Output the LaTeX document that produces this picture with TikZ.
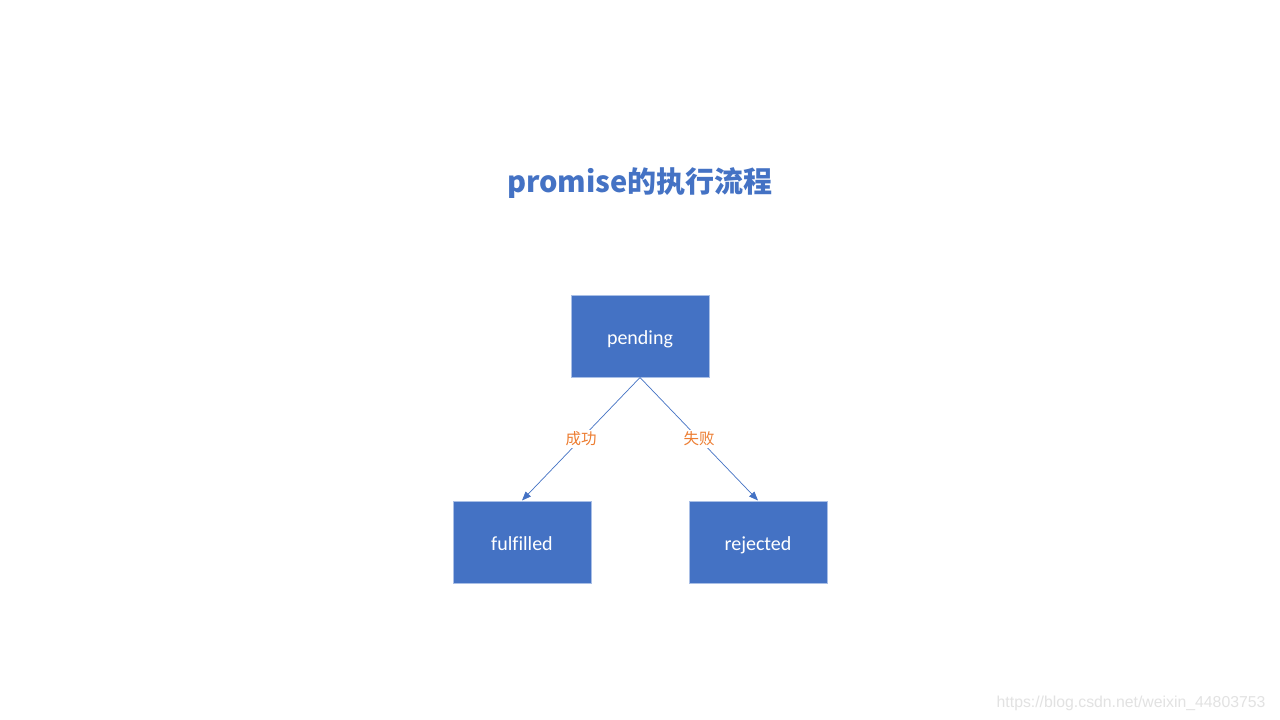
\documentclass[tikz,border=0pt]{standalone}
\usepackage{fontspec}
\setmainfont{Carlito}[Ligatures={NoCommon}]
\newfontfamily\cjk{Noto Sans CJK SC}
\newfontfamily\cjkbold{Noto Sans CJK SC}[UprightFont=* Black]
\newfontfamily\wmfont{Liberation Sans}
\usetikzlibrary{arrows.meta}
\definecolor{boxblue}{HTML}{4472C4}
\definecolor{boxedge}{HTML}{A9BFE6}
\definecolor{lblorange}{HTML}{ED7D31}
\definecolor{wmgray}{HTML}{E2E2E2}
\begin{document}
\begin{tikzpicture}[x=1pt,y=-1pt,
  statebox/.style={draw=boxedge,line width=1pt,fill=boxblue,minimum width=138pt,minimum height=82pt,inner sep=0pt,text=white,text height=20pt,text depth=4pt,font=\fontsize{20}{22}\selectfont},
  conn/.style={draw=boxblue,line width=0.7pt,-{Triangle[length=9pt,width=7pt]}},
  lbl/.style={fill=white,inner sep=1.5pt,text=lblorange,font=\cjk\fontsize{15.5}{17}\selectfont}]
\useasboundingbox (0,0) rectangle (1280,720);
\fill[white] (0,0) rectangle (1280,720);
\node[text=boxblue,font=\cjkbold\fontsize{29}{33}\selectfont] (title) at (640,183) {promise的执行流程};
\node[statebox] (pending) at (640,336) {pending};
\node[statebox] (fulfilled) at (522,542) {fulfilled};
\node[statebox] (rejected) at (758,542) {rejected};
\coordinate (src) at (pending.south);
\draw[conn] (src) -- (fulfilled.north) node[lbl,pos=0.5] (ok) {成功};
\draw[conn] (src) -- (rejected.north) node[lbl,pos=0.5] (fail) {失败};
\node[anchor=east,text=wmgray,font=\wmfont\fontsize{15.8}{18}\selectfont] (wm) at (1269,703) {https://blog.csdn.net/weixin\_44803753};
\end{tikzpicture}
\end{document}
